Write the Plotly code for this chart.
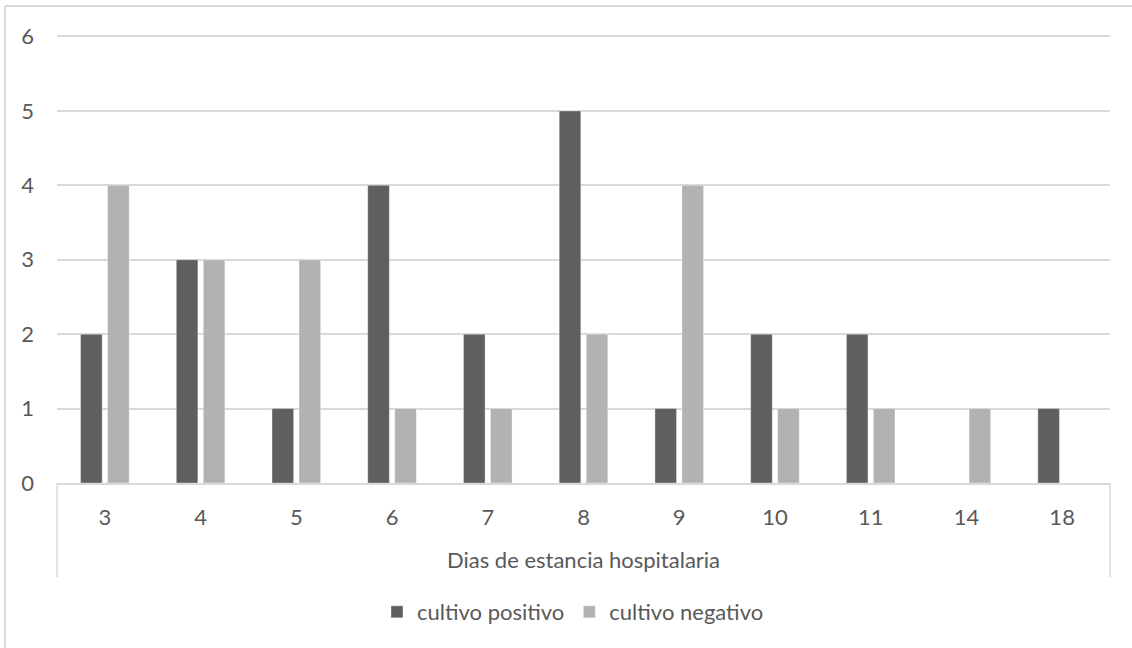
import plotly.graph_objects as go

# Hospital stay (days) and number of cases by culture result
dias = ["3", "4", "5", "6", "7", "8", "9", "10", "11", "14", "18"]
cultivo_positivo = [2, 3, 1, 4, 2, 5, 1, 2, 2, 0, 1]
cultivo_negativo = [4, 3, 3, 1, 1, 2, 4, 1, 1, 1, 0]
y_ticks = [0, 1, 2, 3, 4, 5, 6]

FONT = "Lato, Carlito, Calibri, sans-serif"
FS = 22
TEXT = "#595959"
LINE = "#d9d9d9"

fig = go.Figure()
fig.add_trace(go.Bar(
    x=dias, y=cultivo_positivo, name="cultivo positivo",
    marker=dict(color="#5f5f5f", line=dict(color="rgba(255,255,255,0.35)", width=1)),
))
fig.add_trace(go.Bar(
    x=dias, y=cultivo_negativo, name="cultivo negativo",
    marker=dict(color="#b2b2b2", line=dict(color="rgba(255,255,255,0.35)", width=1)),
))

W, H = 1132, 648
ml, mr, mt, mb = 57, 22, 35, 165
pw, ph = W - ml - mr, H - mt - mb

def px_x(x):
    return (x - ml) / pw

def px_y(y):
    return (H - mb - y) / ph

shapes = [
    # chart frame (top and left edges)
    dict(type="line", xref="paper", yref="paper", x0=px_x(5), x1=px_x(W + 5),
         y0=px_y(6), y1=px_y(6), line=dict(color=LINE, width=2)),
    dict(type="line", xref="paper", yref="paper", x0=px_x(5), x1=px_x(5),
         y0=px_y(6), y1=px_y(H + 5), line=dict(color=LINE, width=2)),
    # category axis group dividers
    dict(type="line", xref="paper", yref="paper", x0=0, x1=0,
         y0=0, y1=px_y(577), line=dict(color=LINE, width=1.5)),
    dict(type="line", xref="paper", yref="paper", x0=1, x1=1,
         y0=0, y1=px_y(577), line=dict(color=LINE, width=1.5)),
]

fig.update_layout(
    width=W, height=H,
    margin=dict(l=ml, r=mr, t=mt, b=mb),
    paper_bgcolor="white", plot_bgcolor="white",
    font=dict(family=FONT, size=FS, color=TEXT),
    barmode="group", bargap=0.436, bargroupgap=0.2,
    showlegend=True,
    legend=dict(orientation="h", x=0.49, xanchor="center", y=px_y(612), yanchor="middle",
                font=dict(family=FONT, size=FS, color=TEXT), itemwidth=30,
                traceorder="normal"),
    xaxis=dict(
        type="category", showgrid=False, showline=True, linecolor=LINE, linewidth=1.5,
        ticks="", ticklabelstandoff=14, tickfont=dict(size=FS, color=TEXT),
        title=dict(text="Dias de estancia hospitalaria", standoff=23,
                   font=dict(size=FS, color=TEXT)),
    ),
    yaxis=dict(
        range=[0, 6.02], tickvals=y_ticks, showgrid=True, gridcolor=LINE, gridwidth=1.5,
        zeroline=False, showline=False, ticks="", ticklabelstandoff=22,
        tickfont=dict(size=FS, color=TEXT),
    ),
    shapes=shapes,
)

fig.write_html("out.html")
